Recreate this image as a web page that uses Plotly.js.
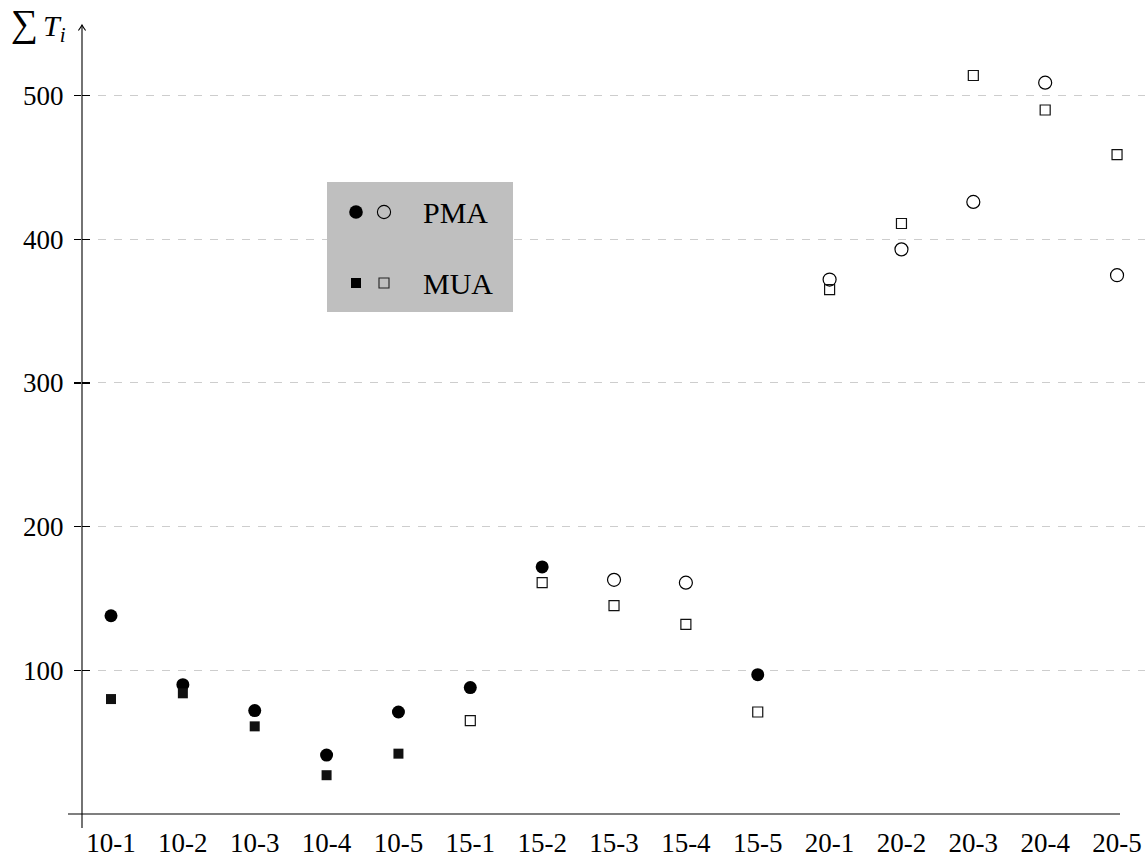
<!DOCTYPE html>
<html>
<head>
<meta charset="utf-8">
<script src="https://cdn.plot.ly/plotly-3.0.1.min.js"></script>
<style>html,body{margin:0;padding:0;background:#fff;}#chart{width:1148px;height:858px;}</style>
</head>
<body>
<div id="chart"></div>
<script>
const categories = ['10-1','10-2','10-3','10-4','10-5','15-1','15-2','15-3','15-4','15-5','20-1','20-2','20-3','20-4','20-5'];
const pmaValues = [138, 90, 72, 41, 71, 88, 172, 163, 161, 97, 372, 393, 426, 509, 375];
const pmaFilled = [1, 1, 1, 1, 1, 1, 1, 0, 0, 1, 0, 0, 0, 0, 0];
const muaValues = [80, 84, 61, 27, 42, 65, 161, 145, 132, 71, 365, 411, 514, 490, 459];
const muaFilled = [1, 1, 1, 1, 1, 0, 0, 0, 0, 0, 0, 0, 0, 0, 0];
const yTicks = [100, 200, 300, 400, 500];
const legendNames = ['PMA', 'MUA'];

const FONT = 'Liberation Serif, Times New Roman, serif';
const W = 1148, H = 858;
const L = 82, R = 3, T = 20, B = 44;
const pw = W - L - R, ph = H - T - B;
const px = v => (v - L) / pw;          // pixel x -> paper
const py = v => (H - B - v) / ph;      // pixel y -> paper

const yMax = ph / 1.43675;
const yRange = [0, yMax];

const pmaTrace = {
  type: 'scatter', mode: 'markers', x: categories, y: pmaValues, name: legendNames[0],
  marker: {
    symbol: pmaFilled.map(f => f ? 'circle' : 'circle-open'),
    size: 13, color: '#000',
    line: {color: '#000', width: pmaFilled.map(f => f ? 0 : 1.2)}
  },
  hoverinfo: 'x+y', showlegend: false
};
const muaTrace = {
  type: 'scatter', mode: 'markers', x: categories, y: muaValues, name: legendNames[1], yaxis: 'y2',
  marker: {
    symbol: muaFilled.map(f => f ? 'square' : 'square-open'),
    size: 10, color: '#111',
    line: {color: '#111', width: muaFilled.map(f => f ? 0 : 1.2)}
  },
  hoverinfo: 'x+y', showlegend: false
};

const lx = 356, lx2 = 384, ly1 = 212, ly2 = 283;
const shapes = [
  {type: 'line', xref: 'paper', yref: 'paper', x0: 0, x1: 0, y0: py(828), y1: py(25), line: {color: '#000', width: 1.1}},
  {type: 'path', xref: 'paper', yref: 'paper', xsizemode: 'pixel', ysizemode: 'pixel', xanchor: 0, yanchor: py(25),
   path: 'M -3.6,-5.5 Q -1,-2 0,0 Q 1,-2 3.6,-5.5', line: {color: '#000', width: 1.1}},
  {type: 'line', xref: 'paper', yref: 'paper', x0: px(68), x1: px(1120), y0: 0, y1: 0, line: {color: '#000', width: 1.1}},
  {type: 'rect', xref: 'paper', yref: 'paper', x0: px(327), x1: px(513), y0: py(312), y1: py(182), fillcolor: '#bfbfbf', line: {width: 0}, layer: 'above'},
  {type: 'circle', xref: 'paper', yref: 'paper', xsizemode: 'pixel', ysizemode: 'pixel', xanchor: px(lx), yanchor: py(ly1),
   x0: -6.8, x1: 6.8, y0: -6.8, y1: 6.8, fillcolor: '#000', line: {width: 0}},
  {type: 'circle', xref: 'paper', yref: 'paper', xsizemode: 'pixel', ysizemode: 'pixel', xanchor: px(lx2), yanchor: py(ly1),
   x0: -6.6, x1: 6.6, y0: -6.6, y1: 6.6, fillcolor: 'rgba(0,0,0,0)', line: {color: '#000', width: 1.1}},
  {type: 'rect', xref: 'paper', yref: 'paper', xsizemode: 'pixel', ysizemode: 'pixel', xanchor: px(lx), yanchor: py(ly2),
   x0: -5, x1: 5, y0: -5, y1: 5, fillcolor: '#000', line: {width: 0}},
  {type: 'rect', xref: 'paper', yref: 'paper', xsizemode: 'pixel', ysizemode: 'pixel', xanchor: px(lx2), yanchor: py(ly2),
   x0: -5, x1: 5, y0: -5, y1: 5, fillcolor: 'rgba(0,0,0,0)', line: {color: '#222', width: 1.1}}
];

const annotations = [
  {xref: 'paper', yref: 'paper', x: px(421), y: py(ly1), xanchor: 'left', yanchor: 'middle', showarrow: false,
   text: legendNames[0], font: {family: FONT, size: 30, color: '#000'}},
  {xref: 'paper', yref: 'paper', x: px(421), y: py(ly2), xanchor: 'left', yanchor: 'middle', showarrow: false,
   text: legendNames[1], font: {family: FONT, size: 30, color: '#000'}},
  {xref: 'paper', yref: 'paper', x: px(9), y: py(25), xanchor: 'left', yanchor: 'middle', showarrow: false,
   text: '<span style="font-size:38px">∑</span>\u2006<i>T</i><sub><i>i</i></sub>', font: {family: FONT, size: 30, color: '#000'}}
];

const layout = {
  width: W, height: H,
  margin: {l: L, r: R, t: T, b: B, pad: 0},
  paper_bgcolor: '#fff', plot_bgcolor: '#fff',
  showlegend: false,
  font: {family: FONT, size: 27, color: '#000'},
  xaxis: {
    type: 'category', range: [(L - 111) / 71.86, (W - R - 111) / 71.86],
    showgrid: false, zeroline: false, showline: false, ticks: '',
    tickfont: {family: FONT, size: 27, color: '#000'}, ticklabelstandoff: 10,
    fixedrange: true
  },
  yaxis: {
    range: yRange, autorange: false, tickmode: 'array', tickvals: yTicks,
    showgrid: true, gridcolor: '#cdcdcd', gridwidth: 1, griddash: '8px,8px',
    zeroline: false, showline: false, ticks: 'outside', ticklen: 7, tickwidth: 1.1, tickcolor: '#000',
    tickfont: {family: FONT, size: 27, color: '#000'}, ticklabelstandoff: 5,
    fixedrange: true
  },
  yaxis2: {
    overlaying: 'y', side: 'left', anchor: 'x',
    range: yRange, autorange: false, tickmode: 'array', tickvals: yTicks,
    showgrid: false, zeroline: false, showline: false, showticklabels: false,
    ticks: 'inside', ticklen: 8, tickwidth: 1.1, tickcolor: '#000', fixedrange: true
  },
  shapes: shapes,
  annotations: annotations
};

Plotly.newPlot('chart', [muaTrace, pmaTrace], layout, {displayModeBar: false, staticPlot: true});
</script>
</body>
</html>
